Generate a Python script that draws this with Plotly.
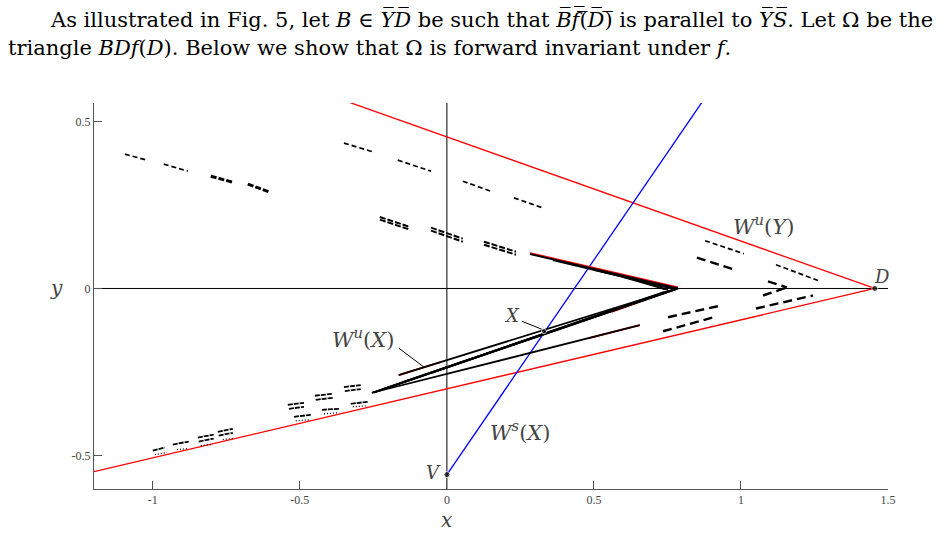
import plotly.graph_objects as go

# ---------------- data (data coordinates) ----------------
D_pt = (1.455, 0.0)
V_pt = (0.0, -0.557)
X_pt = (0.330, -0.128)
red_upper_x = [-0.335, 1.455]
red_upper_y = [0.558, 0.0]
red_lower_x = [1.455, -1.2]
red_lower_y = [0.0, -0.548]
blue_x = [0.0, 0.868]
blue_y = [-0.557, 0.558]

# unstable manifold W^u(X): black segments (x0, y0, x1, y1)
wu_x0 = [0.786, 0.775, 0.765, 0.752, 0.740, 0.786, 0.786, 0.778, 0.770, 0.760, 0.750, 0.740, -0.255]
wu_y0 = [0.000, -0.002, 0.000, -0.004, -0.002, 0.000, 0.000, -0.003, -0.004, -0.006, -0.009, -0.010, -0.312]
wu_x1 = [0.283, 0.360, 0.500, 0.600, 0.650, -0.164, -0.255, -0.250, -0.245, -0.220, -0.150, -0.050, 0.656]
wu_y1 = [0.103, 0.085, 0.056, 0.034, 0.026, -0.259, -0.312, -0.312, -0.310, -0.302, -0.280, -0.252, -0.110]
# red parts of W^u(X)
wur_x0 = [0.283, -0.164, 0.480, 0.560]
wur_y0 = [0.106, -0.259, -0.149, -0.070]
wur_x1 = [0.786, -0.020, 0.656, 0.786]
wur_y1 = [0.003, -0.220, -0.110, 0.002]

# thin dashed groups
thin_x0 = [-1.095, -0.963, -0.350, -0.167, 0.054, 0.228, 0.878, 1.119]
thin_y0 = [0.402, 0.372, 0.435, 0.384, 0.321, 0.271, 0.143, 0.071]
thin_x1 = [-1.020, -0.881, -0.248, -0.054, 0.156, 0.327, 1.010, 1.262]
thin_y1 = [0.384, 0.351, 0.408, 0.351, 0.289, 0.241, 0.104, 0.024]

# thick dashed groups
thick_x0 = [-0.803, -0.677]
thick_y0 = [0.336, 0.3125]
thick_x1 = [-0.728, -0.605]
thick_y1 = [0.318, 0.289]

# long dashed groups on the right
long_x0 = [0.850, 1.092, 1.075, 1.051, 0.752, 0.735]
long_y0 = [0.092, 0.021, -0.021, -0.060, -0.086, -0.128]
long_x1 = [0.986, 1.156, 1.156, 1.245, 0.932, 0.908]
long_y1 = [0.054, 0.003, 0.003, -0.021, -0.051, -0.086]

# double-row groups near the centre
dbl_x0 = [-0.228, -0.228, -0.054, -0.054, 0.126, 0.126]
dbl_y0 = [0.214, 0.206, 0.182, 0.173, 0.140, 0.131]
dbl_x1 = [-0.129, -0.129, 0.054, 0.054, 0.235, 0.235]
dbl_y1 = [0.185, 0.177, 0.149, 0.140, 0.110, 0.101]

# lower-left groups: solid-ish rows and dotted rows
row_x0 = [-1.000, -0.932, -0.847, -0.844, -0.779, -0.776, -0.541, -0.537, -0.520,
          -0.449, -0.446, -0.425, -0.350, -0.347, -0.327]
row_y0 = [-0.485, -0.467, -0.446, -0.458, -0.429, -0.440, -0.348, -0.360, -0.384,
          -0.321, -0.333, -0.363, -0.295, -0.307, -0.345]
row_x1 = [-0.959, -0.878, -0.793, -0.793, -0.728, -0.728, -0.486, -0.486, -0.463,
          -0.388, -0.388, -0.364, -0.293, -0.293, -0.269]
row_y1 = [-0.476, -0.458, -0.4375, -0.449, -0.420, -0.432, -0.342, -0.354, -0.378,
          -0.315, -0.327, -0.360, -0.289, -0.301, -0.339]
dot_x0 = [-0.993, -0.918, -0.837, -0.762, -0.514, -0.418, -0.320]
dot_y0 = [-0.497, -0.482, -0.470, -0.452, -0.396, -0.375, -0.354]
dot_x1 = [-0.952, -0.878, -0.796, -0.728, -0.463, -0.371, -0.276]
dot_y1 = [-0.491, -0.479, -0.467, -0.449, -0.393, -0.372, -0.351]

# labels
label_text = ["<i>W</i><sup><i>u</i></sup>(<i>Y</i>)", "<i>W</i><sup><i>u</i></sup>(<i>X</i>)",
              "<i>W</i><sup><i>s</i></sup>(<i>X</i>)", "<i>X</i>", "<i>D</i>", "<i>V</i>"]
label_x = [1.075, -0.286, 0.250, 0.222, 1.480, -0.045]
label_y = [0.190, -0.147, -0.427, -0.080, 0.036, -0.551]
label_size = [21, 21, 21, 18, 18, 18]
lead_x0 = [0.255, -0.163]
lead_y0 = [-0.098, -0.179]
lead_x1 = [0.323, -0.078]
lead_y1 = [-0.122, -0.235]

x_ticks = [-1, -0.5, 0, 0.5, 1, 1.5]
x_tick_text = ["-1", "-0.5", "0", "0.5", "1", "1.5"]
y_ticks = [-0.5, 0, 0.5]
y_tick_text = ["-0.5", "0", "0.5"]
x_range = [-1.2, 1.5]
y_range = [-0.6, 0.555]

SERIF = "DejaVu Serif"


def seg_xy(x0, y0, x1, y1):
    xs, ys = [], []
    for a, b, c, d in zip(x0, y0, x1, y1):
        xs += [a, c, None]
        ys += [b, d, None]
    return xs, ys


fig = go.Figure()


def add_segs(x0, y0, x1, y1, color, width, dash="solid"):
    xs, ys = seg_xy(x0, y0, x1, y1)
    fig.add_trace(go.Scatter(x=xs, y=ys, mode="lines", hoverinfo="skip",
                             line=dict(color=color, width=width, dash=dash)))


add_segs([x_range[0], 0], [0, y_range[0]], [x_range[1], 0], [0, y_range[1]], "black", 1)
add_segs([red_upper_x[0], red_lower_x[0]], [red_upper_y[0], red_lower_y[0]],
         [red_upper_x[1], red_lower_x[1]], [red_upper_y[1], red_lower_y[1]], "red", 1.3)
add_segs([blue_x[0]], [blue_y[0]], [blue_x[1]], [blue_y[1]], "blue", 1.3)
add_segs(thin_x0, thin_y0, thin_x1, thin_y1, "black", 1.7, "5px,3px")
add_segs(thick_x0, thick_y0, thick_x1, thick_y1, "black", 3, "6px,2px")
add_segs(long_x0, long_y0, long_x1, long_y1, "black", 2.4, "9px,5px")
add_segs(dbl_x0, dbl_y0, dbl_x1, dbl_y1, "black", 2, "6px,2px")
add_segs(row_x0, row_y0, row_x1, row_y1, "black", 1.8, "5px,1px")
add_segs(dot_x0, dot_y0, dot_x1, dot_y1, "black", 1.3, "1px,2px")
add_segs(wur_x0, wur_y0, wur_x1, wur_y1, "red", 1.8)
add_segs(wu_x0, wu_y0, wu_x1, wu_y1, "black", 1.8)
add_segs(lead_x0, lead_y0, lead_x1, lead_y1, "black", 1)
fig.add_trace(go.Scatter(x=[D_pt[0], V_pt[0], X_pt[0]], y=[D_pt[1], V_pt[1], X_pt[1]],
                         mode="markers", hoverinfo="skip",
                         marker=dict(color="black", size=[6, 6, 5])))

for t, x, y, s in zip(label_text, label_x, label_y, label_size):
    fig.add_annotation(x=x, y=y, text=t, showarrow=False,
                       font=dict(family=SERIF, size=s, color="#444"))

fig.add_annotation(x=0, y=-0.08, xref="x", yref="paper", text="<i>x</i>", showarrow=False,
                   yanchor="middle", font=dict(family=SERIF, size=20, color="#444"))
fig.add_annotation(x=-0.047, y=0, xref="paper", yref="y", text="<i>y</i>", showarrow=False,
                   xanchor="center", yanchor="middle", font=dict(family=SERIF, size=20, color="#444"))

line1 = ("As illustrated in Fig. 5, let <i>B</i> ∈ <i>Y\u0305D\u0305</i> be such that "
         "<i>B\u0305f\u0305</i>(\u0305<i>D\u0305</i>)\u0305 is parallel to <i>Y\u0305S\u0305</i>. "
         "Let Ω be the")
line2 = "triangle <i>BDf</i>(<i>D</i>). Below we show that Ω is forward invariant under <i>f</i>."
fig.add_annotation(x=-0.058, y=1.218, xref="paper", yref="paper", text=line1, showarrow=False,
                   xanchor="left", yanchor="middle",
                   font=dict(family=SERIF, size=21, color="black"))
fig.add_annotation(x=-0.111, y=1.143, xref="paper", yref="paper", text=line2, showarrow=False,
                   xanchor="left", yanchor="middle",
                   font=dict(family=SERIF, size=21, color="black"))

axis_common = dict(showgrid=False, zeroline=False, showline=True, linecolor="#555",
                   linewidth=1, ticks="inside", ticklen=8, tickcolor="#555",
                   tickfont=dict(family="Liberation Serif", size=12, color="#444"))
fig.update_layout(
    width=952, height=535, showlegend=False,
    margin=dict(l=94, r=64, t=103, b=46),
    paper_bgcolor="white", plot_bgcolor="white",
    xaxis=dict(range=x_range, tickvals=x_ticks, ticktext=x_tick_text, **axis_common),
    yaxis=dict(range=y_range, tickvals=y_ticks, ticktext=y_tick_text, **axis_common),
)
fig.write_html("out.html")
